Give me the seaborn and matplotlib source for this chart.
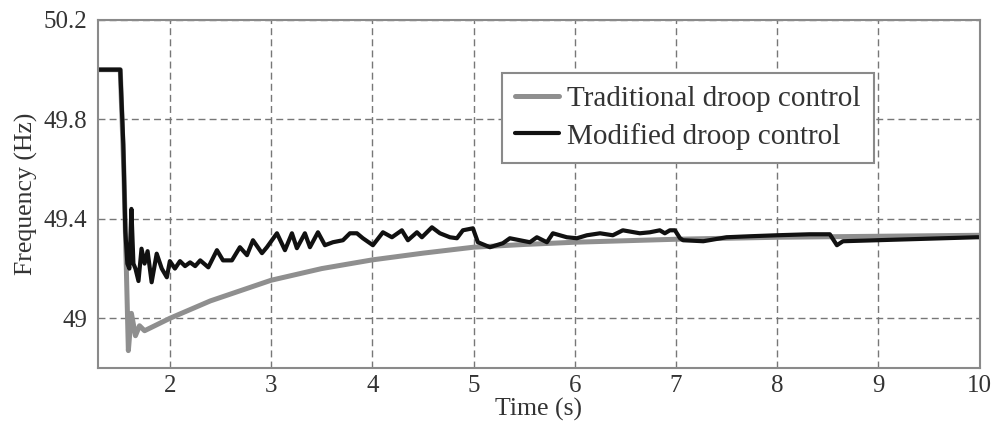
import numpy as np
import pandas as pd
import matplotlib
matplotlib.use("Agg")
import matplotlib.pyplot as plt
import seaborn as sns

# ---- data ----
trad_t = [1.29, 1.51, 1.545, 1.57, 1.59, 1.62, 1.66, 1.70, 1.75, 1.85, 2.0, 2.4,
          3.0, 3.5, 4.0, 4.5, 5.0, 5.5, 6.0, 7.0, 8.0, 9.0, 10.0]
trad_f = [50.0, 50.0, 49.6, 49.2, 48.87, 49.02, 48.93, 48.97, 48.95, 48.97, 49.0, 49.07,
          49.153, 49.2, 49.235, 49.262, 49.286, 49.297, 49.306, 49.318, 49.326, 49.33, 49.334]

mod_t = [1.29, 1.51, 1.54, 1.56, 1.58, 1.60, 1.62, 1.64, 1.66, 1.69, 1.72, 1.75, 1.78,
         1.82, 1.87, 1.92, 1.97, 2.00, 2.05, 2.10, 2.15, 2.20, 2.25, 2.30, 2.38, 2.465,
         2.525, 2.613, 2.692, 2.762, 2.821, 2.910, 2.959, 3.058, 3.137, 3.206, 3.255,
         3.334, 3.384, 3.463, 3.532, 3.611, 3.710, 3.779, 3.848, 3.907, 4.006, 4.105,
         4.194, 4.292, 4.352, 4.441, 4.49, 4.589, 4.668, 4.767, 4.836, 4.895, 4.994,
         5.043, 5.162, 5.29, 5.359, 5.557, 5.626, 5.725, 5.784, 5.922, 6.021, 6.12,
         6.25, 6.376, 6.475, 6.643, 6.742, 6.84, 6.89, 6.94, 6.99, 7.04, 7.07, 7.27,
         7.5, 7.73, 7.996, 8.32, 8.52, 8.59, 8.65, 8.98, 9.31, 9.97, 10.0]
mod_f = [50.0, 50.0, 49.70, 49.35, 49.22, 49.20, 49.44, 49.22, 49.20, 49.15, 49.28, 49.22, 49.27,
         49.145, 49.26, 49.20, 49.165, 49.23, 49.20, 49.23, 49.21, 49.225, 49.21, 49.233, 49.205, 49.274,
         49.233, 49.233, 49.286, 49.254, 49.314, 49.262, 49.286, 49.342, 49.274, 49.342, 49.282,
         49.342, 49.286, 49.346, 49.294, 49.306, 49.314, 49.342, 49.342, 49.322, 49.294, 49.346,
         49.326, 49.354, 49.314, 49.346, 49.326, 49.366, 49.342, 49.326, 49.322, 49.354, 49.362,
         49.306, 49.286, 49.302, 49.322, 49.306, 49.326, 49.306, 49.342, 49.326, 49.322, 49.334,
         49.342, 49.334, 49.354, 49.342, 49.346, 49.354, 49.342, 49.354, 49.354, 49.322, 49.314, 49.310,
         49.326, 49.330, 49.334, 49.338, 49.338, 49.294, 49.310, 49.314, 49.318, 49.326, 49.326]

series_names = ["Traditional droop control", "Modified droop control"]
xticks = [2, 3, 4, 5, 6, 7, 8, 9, 10]
yticks = [49.0, 49.4, 49.8, 50.2]
ytick_labels = ["49", "49.4", "49.8", "50.2"]

sns.set_style("white")
plt.rcParams["font.family"] = ["Liberation Serif", "DejaVu Serif"]

fig = plt.figure(figsize=(10.03, 4.34), dpi=100)
ax = fig.add_axes([0.0977, 0.152, 0.879, 0.802])

df_trad = pd.DataFrame({"t": trad_t, "f": trad_f})
df_mod = pd.DataFrame({"t": mod_t, "f": mod_f})
sns.lineplot(data=df_trad, x="t", y="f", ax=ax, color="#8f8f8f", lw=3.6,
             label=series_names[0], sort=False, estimator=None)
sns.lineplot(data=df_mod, x="t", y="f", ax=ax, color="#111111", lw=3.0,
             label=series_names[1], sort=False, estimator=None)

ax.set_xlim(1.29, 10.0)
ax.set_ylim(48.8, 50.2)
ax.set_xticks(xticks)
ax.set_xticklabels([str(v) for v in xticks])
ax.set_yticks(yticks)
ax.set_yticklabels(ytick_labels)
ax.tick_params(axis="x", pad=5)
ax.tick_params(axis="y", pad=8)
ax.tick_params(axis="both", labelsize=18, colors="#333333", direction="in",
               length=0, width=1)
ax.grid(True, linestyle=(0, (5, 3)), color="#777777", lw=1.0)
for s in ax.spines.values():
    s.set_color("#8a8a8a")
    s.set_linewidth(1.5)
ax.set_xlabel("Time (s)", fontsize=18.5, color="#333333", labelpad=1)
ax.set_ylabel("Frequency (Hz)", fontsize=18.5, color="#333333", labelpad=4)

leg = ax.legend(loc="upper left", bbox_to_anchor=(0.458, 0.848), fontsize=21,
                frameon=True, fancybox=False, framealpha=1, edgecolor="#8a8a8a",
                handlelength=1.5, handletextpad=0.3, borderpad=0.45,
                labelspacing=0.35, borderaxespad=0)
leg.get_frame().set_linewidth(1.5)
for txt in leg.get_texts():
    txt.set_color("#333333")

fig.savefig("out.png", dpi=100)
